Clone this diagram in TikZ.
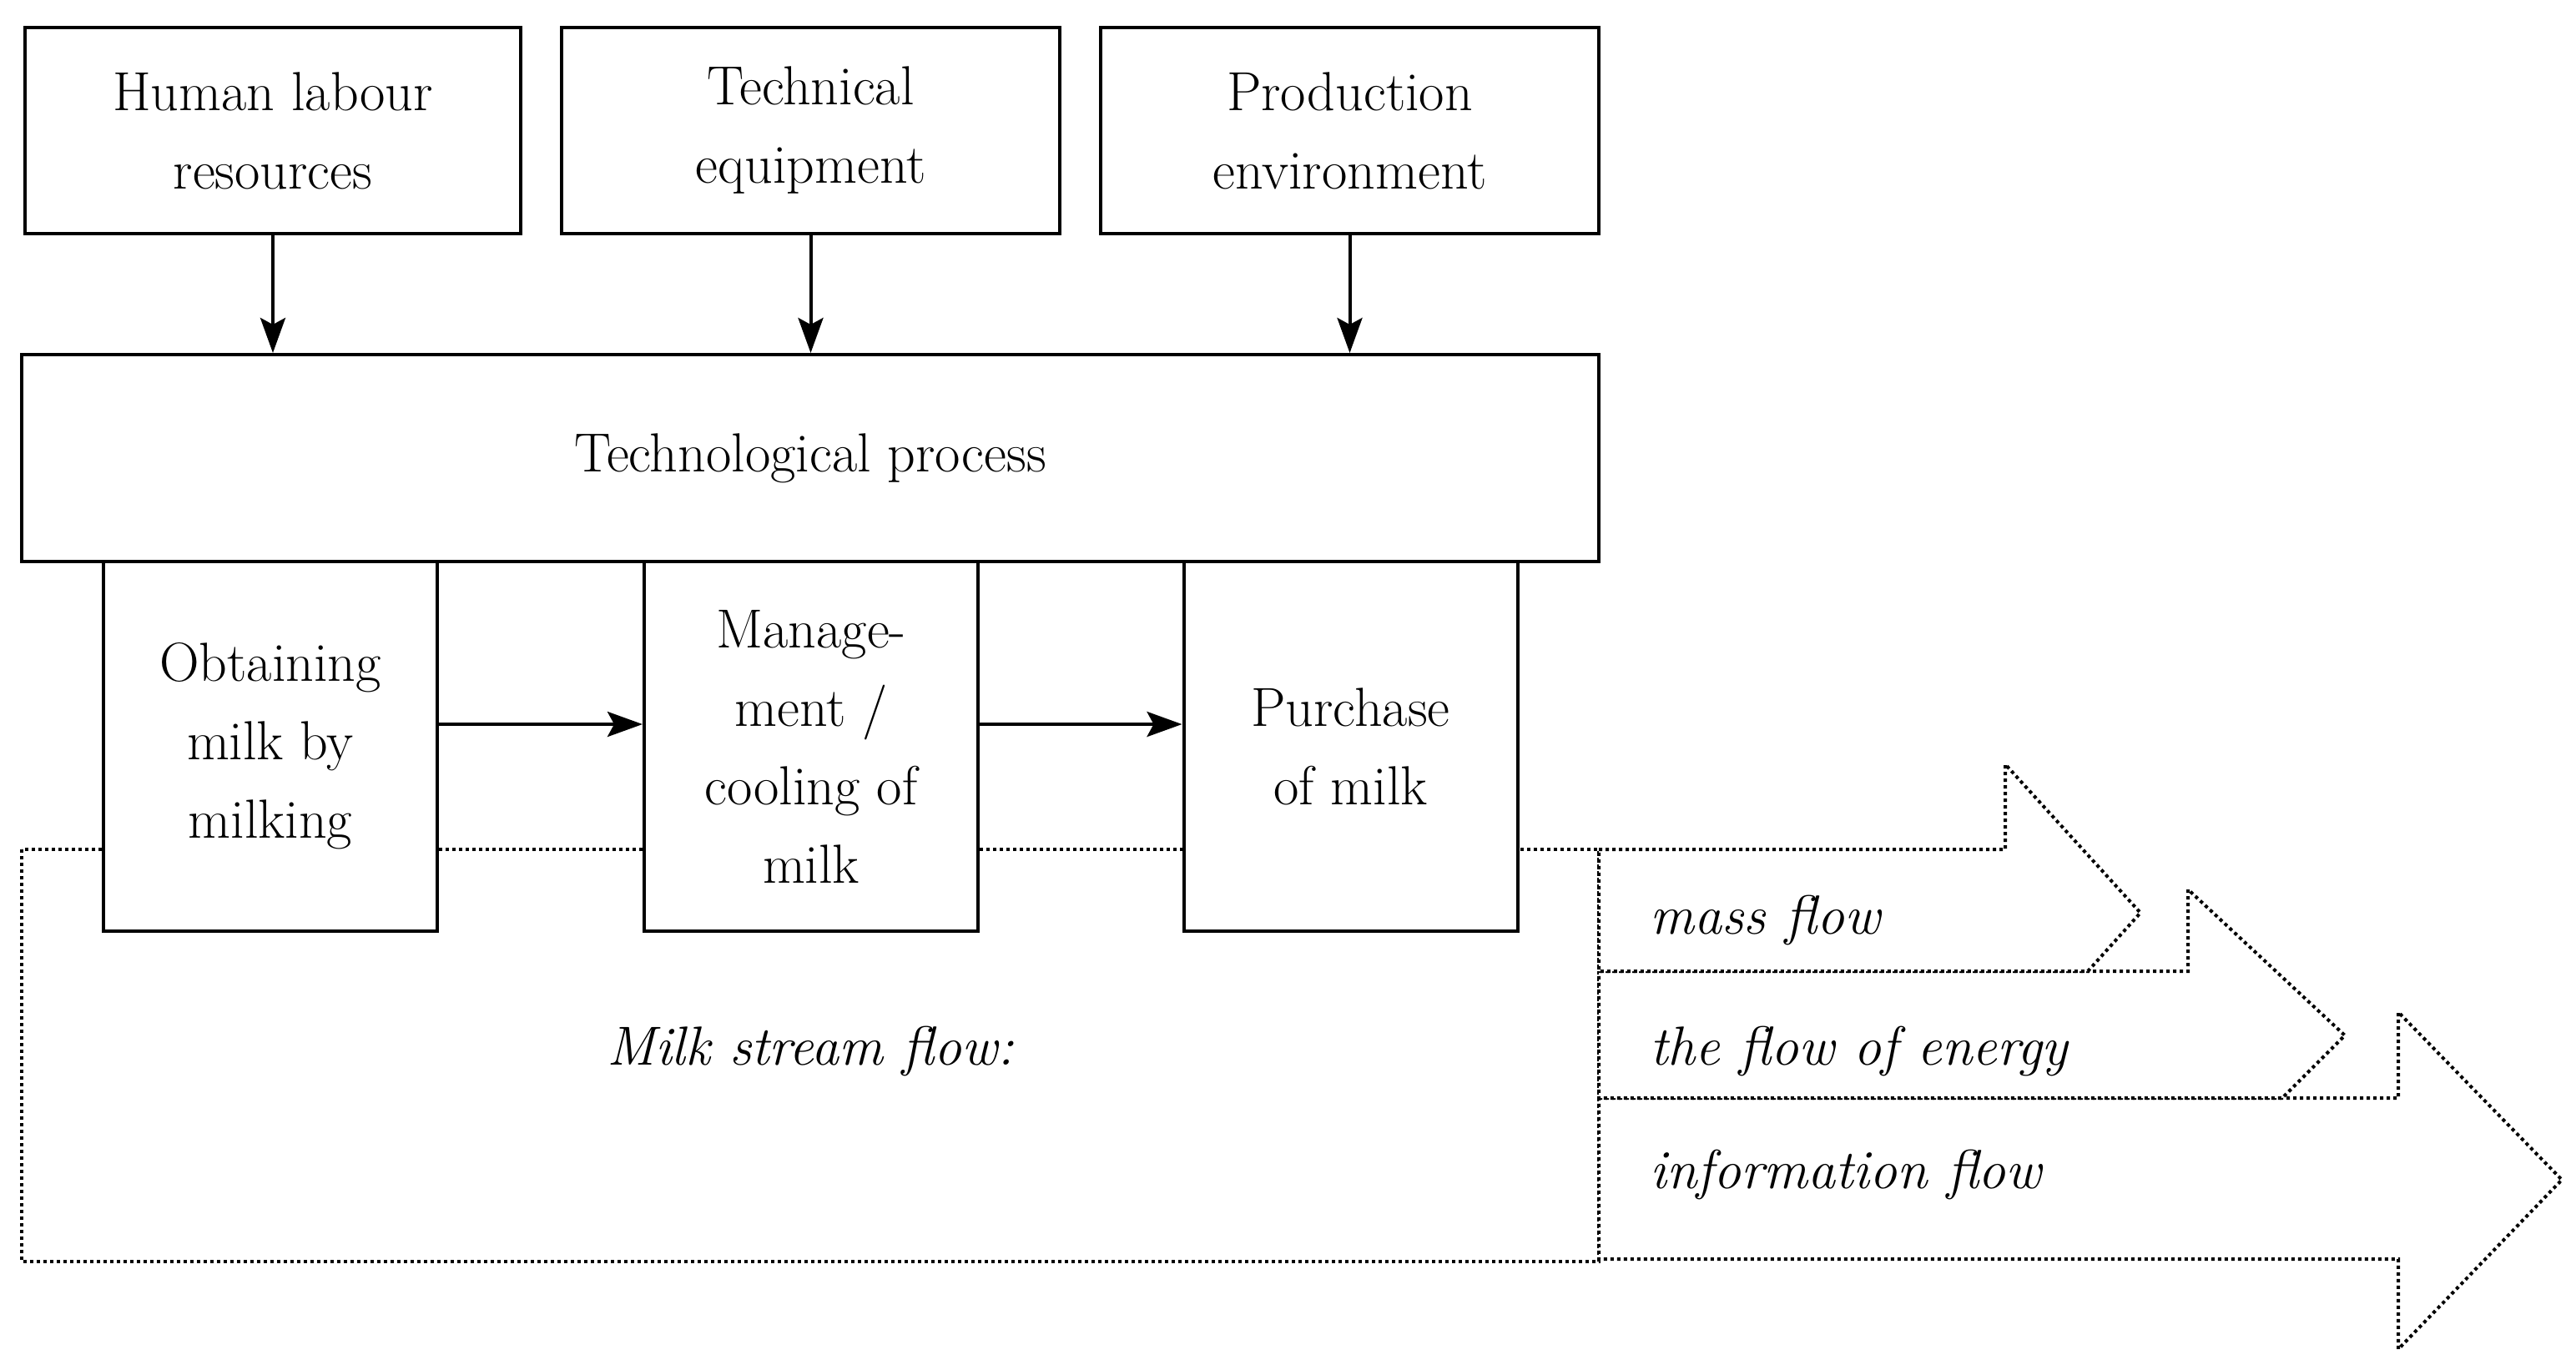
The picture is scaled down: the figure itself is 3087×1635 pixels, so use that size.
\documentclass[tikz,border=0pt]{standalone}
\usetikzlibrary{arrows.meta}
\begin{document}
\begin{tikzpicture}[x=0.5pt,y=-0.5pt,
  box/.style={draw,line width=2pt,fill=white,align=center,inner sep=0pt,
    font=\fontsize{33}{47}\selectfont},
  dot/.style={line width=2pt,dash pattern=on 2pt off 2pt},
  arr/.style={line width=2pt,-{Stealth[length=21pt,width=15pt,inset=4pt]}},
  lab/.style={font=\fontsize{33}{38}\selectfont\itshape,inner sep=0pt}]
\useasboundingbox (0,0) rectangle (3087,1635);
% dotted frame and flow arrows
\draw[dot] (26,1018) rectangle (1916,1512);
\draw[dot,fill=white] (1916,1316) -- (2874,1316) -- (2874,1213) -- (3070,1414) -- (2874,1617) -- (2874,1509) -- (1916,1509) -- cycle;
\draw[dot,fill=white] (1916,1164) -- (2622,1164) -- (2622,1066) -- (2810,1241) -- (2735,1316) -- (1916,1316) -- cycle;
\draw[dot,fill=white] (1916,1018) -- (2403,1018) -- (2403,916) -- (2565,1094) -- (2502,1164) -- (1916,1164) -- cycle;
\node[lab,anchor=west] (mf) at (1977,1103) {mass flow};
\node[lab,anchor=west] (ef) at (1977,1260) {the flow of energy};
\node[lab,anchor=west] (if) at (1977,1408) {information flow};
\node[lab] (ms) at (971,1260) {Milk stream flow:};
% boxes
\node[box,minimum width=297pt,minimum height=123.5pt] (h) at (327,156.5) {Human labour\\resources};
\node[box,minimum width=298.5pt,minimum height=123.5pt] (t) at (971.5,156.5) {Technical\\equipment};
\node[box,minimum width=298.5pt,minimum height=123.5pt] (p) at (1617.5,156.5) {Production\\environment};
\node[box,minimum width=945pt,minimum height=124pt] (tp) at (971,549) {Technological process};
\node[box,minimum width=200pt,minimum height=221.5pt] (o) at (324,894.5) {Obtaining\\milk by\\milking};
\node[box,minimum width=200pt,minimum height=221.5pt] (m) at (972,894.5) {Manage-\\ment /\\cooling of\\milk};
\node[box,minimum width=200pt,minimum height=221.5pt] (pu) at (1618.5,894.5) {Purchase\\of milk};
\draw[arr] (h.south) -- (h.south |- tp.north);
\draw[arr] (t.south) -- (t.south |- tp.north);
\draw[arr] (p.south) -- (p.south |- tp.north);
\draw[arr] (o.east |- 0,868) -- (m.west |- 0,868);
\draw[arr] (m.east |- 0,868) -- (pu.west |- 0,868);
\end{tikzpicture}
\end{document}
